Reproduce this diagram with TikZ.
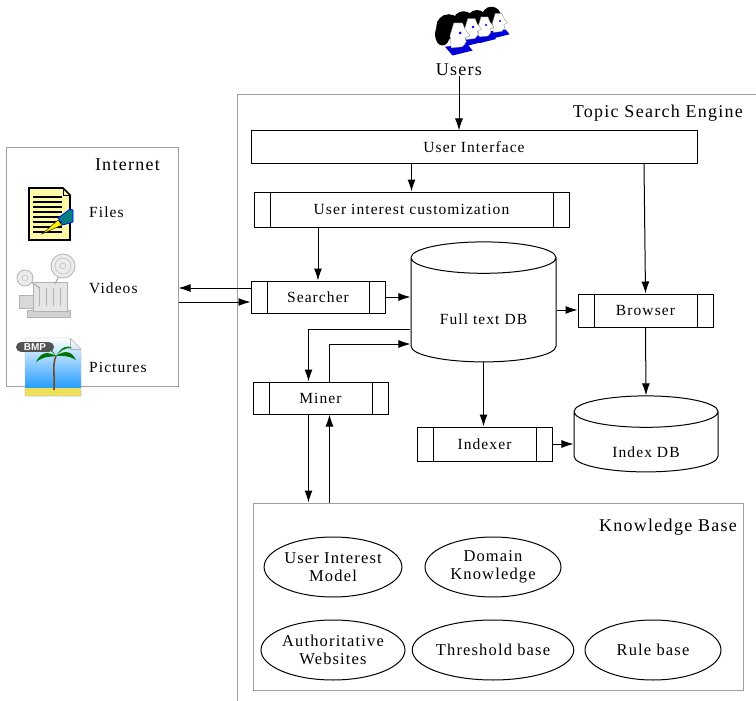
\documentclass[tikz,border=0pt]{standalone}
\usepackage{fontspec}
\setmainfont{Liberation Serif}[LetterSpace=7]
\newfontfamily\iconfont{Liberation Sans}
\usepackage{tikz}
\usetikzlibrary{shapes.geometric,arrows.meta}

\newcommand\lblsize{\fontsize{15.5}{18}\selectfont}
\newcommand\ttlsize{\fontsize{18}{20}\selectfont}

\tikzset{
  box/.style={draw, line width=1pt, inner sep=0pt, minimum height=32pt, font=\lblsize},
  subproc/.style={box, path picture={
      \draw[line width=1pt] ([xshift=16pt]path picture bounding box.north west) -- ([xshift=16pt]path picture bounding box.south west);
      \draw[line width=1pt] ([xshift=-16pt]path picture bounding box.north east) -- ([xshift=-16pt]path picture bounding box.south east);}},
  db/.style={draw, line width=1pt, cylinder, shape border rotate=90, aspect=0.36, inner sep=0pt, font=\lblsize},
  kbitem/.style={draw, line width=1pt, ellipse, inner sep=0pt, minimum width=136pt, minimum height=60pt, align=center, font=\fontsize{16.5}{18.5}\selectfont},
  frame/.style={draw=gray!75, line width=1pt},
  ttl/.style={inner sep=0pt, font=\ttlsize},
  lbl/.style={inner sep=0pt, anchor=west, font=\lblsize},
  arr/.style={line width=1pt, -{Latex[length=12pt,width=8pt]}},
}

\begin{document}
\begin{tikzpicture}[x=1pt,y=-1pt]
\useasboundingbox (0,0) rectangle (756,701);

% containers
\draw[frame] (756,95) -| (237,701);% search engine frame
\node[ttl, anchor=east] (tsetitle) at (743,113) {Topic Search Engine};
\node[frame, minimum width=172pt, minimum height=239pt] (inet) at (92,266.5) {};
\node[ttl, anchor=east] (inettitle) at (160,165) {Internet};
\node[frame, minimum width=490pt, minimum height=187pt] (kb) at (498,596.5) {};
\node[ttl, anchor=east] (kbtitle) at (737,527) {Knowledge Base};

% users icon, back head first
\foreach \ex/\ey/\s in {500/21/0.95, 486/25/1.0, 473/27/1.05, 460/33/1.25}{
  \begin{scope}[shift={(\ex,\ey)}, scale=\s]
    \fill (-9,-5) ellipse (10 and 10);
    \fill (-14,1) ellipse (6 and 9);
    \fill[blue!85!black] (-12,11) -- (6,9) -- (10,14) -- (-6,18) -- cycle;
    \filldraw[fill=white, draw=gray, line width=0.3pt] (-5,-8) -- (2,-8) -- (4,-3) -- (8,2)
      -- (4,4) -- (5,7) -- (2,11) -- (-7,12) -- (-8,2) -- cycle;
    \fill[blue] (0,0) circle (1.2);
  \end{scope}
}
\node[ttl] (users) at (459,70) {Users};

% files icon
\filldraw[fill=yellow!35, line width=1.6pt] (29,188) -- (63,188) -- (70,195) -- (70,240) -- (29,240) -- cycle;
\draw[line width=0.8pt] (63,188) -- (63,195) -- (70,195);
\foreach \y in {197,202,...,234} \draw[line width=1.4pt] (33,\y) -- (62,\y);
\filldraw[fill=yellow, line width=0.4pt] (42,234) -- (58,220) -- (62,225) -- cycle;
\filldraw[fill=teal, draw=blue, line width=0.7pt] (58,218) -- (70,209) -- (73,210) -- (73,222) -- (63,225) -- cycle;
\node[lbl] (files) at (89,212) {Files};

% videos icon
\filldraw[fill=gray!35, draw=gray!60] (27,310) rectangle (70,317);
\filldraw[fill=gray!20, draw=gray!60] (33,282) rectangle (67,311);
\foreach \x in {39,46,53,60} \draw[gray!60] (\x,288) -- (\x,306);
\filldraw[fill=gray!30, draw=gray!60] (19,295) rectangle (33,308);
\draw[gray!60, line width=1.2pt] (25,278) -- (40,288) (63,268) -- (55,284);
\filldraw[fill=gray!15, draw=gray!60, line width=0.8pt] (25,278) circle (8);
\draw[gray!60] (25,278) circle (3);
\filldraw[fill=gray!15, draw=gray!60, line width=0.8pt] (63,266) circle (12);
\foreach \r in {3,8} \draw[gray!60] (63,266) circle (\r);
\node[lbl] (videos) at (89,288) {Videos};

% pictures icon
\shade[top color=white, bottom color=cyan!55!blue] (25,338) -- (70,338) -- (81,349) -- (81,396) -- (25,396) -- cycle;
\fill[brown!35!yellow!70] (25,388) rectangle (81,396);
\draw[gray!60] (25,338) -- (70,338) -- (81,349) -- (81,396) -- (25,396) -- cycle;
\draw[gray!60] (70,338) -- (70,349) -- (81,349);
\draw[brown!60!black, line width=1.6pt] (54,390) .. controls (55,375) and (52,365) .. (56,356);
\fill[green!45!black] (56,356) .. controls (46,350) and (40,354) .. (36,362) .. controls (44,356) and (50,357) .. cycle;
\fill[green!45!black] (56,356) .. controls (66,349) and (72,352) .. (76,360) .. controls (68,355) and (62,356) .. cycle;
\fill[green!50!black] (56,356) .. controls (50,346) and (44,345) .. (40,348) .. controls (48,348) and (52,351) .. cycle;
\fill[green!50!black] (56,356) .. controls (62,346) and (68,345) .. (72,348) .. controls (64,348) and (60,351) .. cycle;
\node[fill=gray!65!black, rounded corners=5pt, text=white, inner sep=1.5pt, minimum width=38pt,
  font=\iconfont\bfseries\fontsize{10}{11}\selectfont] (bmp) at (35,347) {BMP};
\node[lbl] (pictures) at (89,367) {Pictures};

% processing blocks
\node[box, minimum width=446pt] (ui) at (474,147) {User Interface};
\node[subproc, minimum width=315pt, minimum height=35pt] (uic) at (411.5,209.5) {User interest customization};
\node[subproc, minimum width=134pt] (searcher) at (318,297) {Searcher};
\node[subproc, minimum width=135pt] (miner) at (320.5,398) {Miner};
\node[subproc, minimum width=135pt, minimum height=33pt] (browser) at (645.5,310.5) {Browser};
\node[subproc, minimum width=135pt, minimum height=34pt] (indexer) at (484.5,444) {Indexer};
\node[db, minimum width=145pt, minimum height=120pt] (ftdb) at (483.5,310) {\phantom{Full text DB}};
\node[lbl, anchor=center] (ftdblabel) at (483.5,319) {Full text DB};
\node[db, minimum width=144pt, minimum height=76pt] (idb) at (646,442) {\phantom{Full text DB}};
\node[lbl, anchor=center] (idblabel) at (646,452) {Index DB};

% knowledge base items
\node[kbitem] (uim) at (333,567) {User Interest\\Model};
\node[kbitem] (dk) at (493,567) {Domain\\Knowledge};
\node[kbitem] (aw) at (333,650) {Authoritative\\Websites};
\node[kbitem] (tb) at (493,650) {Threshold base};
\node[kbitem] (rb) at (653,650) {Rule base};

% connectors
\draw[arr] (users.south) -- (users.south |- ui.north);
\draw[arr] (uic.north |- ui.south) -- (uic.north);
\draw[arr] ([xshift=170pt]ui.south) -- (browser.north);
\draw[arr] (searcher.north |- uic.south) -- (searcher.north);
\draw[arr] ([yshift=9pt]searcher.west) -- ([yshift=9pt]searcher.west -| inet.east);
\draw[arr] ([yshift=-5pt]searcher.west -| inet.east) -- ([yshift=-5pt]searcher.west);
\draw[arr] (searcher.east) -- (searcher.east -| ftdb.west);
\draw[arr] (ftdb.east) -- (ftdb.east -| browser.west);
\draw[arr] (browser.south) -- (idb.north);
\draw[arr] (ftdb.south) -- (ftdb.south |- indexer.north);
\draw[arr] (indexer.east) -- (indexer.east -| idb.west);
\draw[arr] ([yshift=-19pt]ftdb.west) -| ([xshift=-12pt]miner.north);
\draw[arr] ([xshift=9pt]miner.north) |- ([yshift=-34pt]ftdb.west);
\draw[arr] ([xshift=-12pt]miner.south) -- ([xshift=-12pt]miner.south |- kb.north);
\draw[arr] ([xshift=9pt]miner.south |- kb.north) -- ([xshift=9pt]miner.south);

\end{tikzpicture}
\end{document}
